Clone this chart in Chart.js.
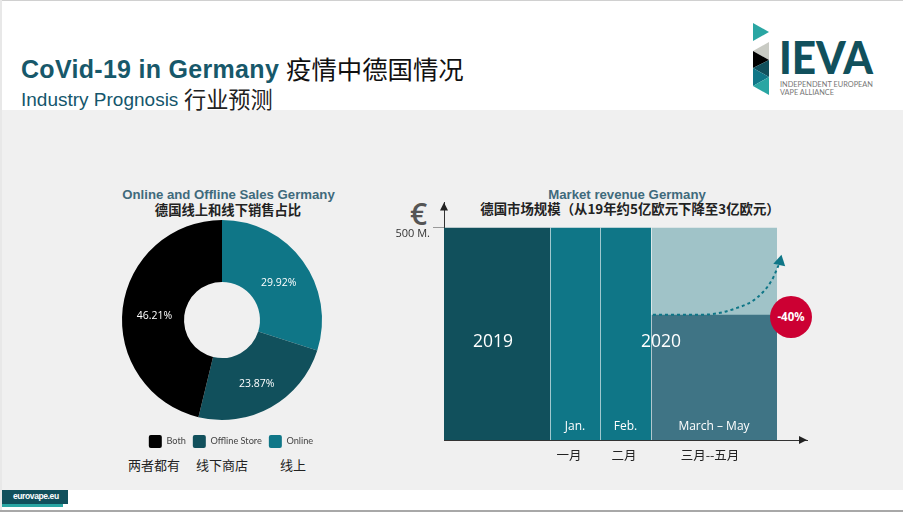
<!DOCTYPE html>
<html>
<head>
<meta charset="utf-8">
<title>CoVid-19 in Germany</title>
<script src="https://cdn.jsdelivr.net/npm/chart.js@4/dist/chart.umd.min.js"></script>
<style>
  html, body { margin: 0; padding: 0; background: #fff; overflow: hidden; }
  #slide { position: relative; width: 903px; height: 512px; overflow: hidden; font-family: "Liberation Sans", "Noto Sans CJK SC", sans-serif; }
  #slide > * { position: absolute; }
  .txt { white-space: nowrap; line-height: 1; }
  .cjk { font-family: "Noto Sans CJK SC", sans-serif; }
  .ctr { transform: translateX(-50%); }
  canvas { display: block; }
</style>
</head>
<body>
<div id="slide">
  <div style="left:0;top:0;width:903px;height:1px;background:#d0d0d0"></div>
  <div style="left:0;top:110px;width:903px;height:380px;background:#f0f0f0"></div>
  <div style="left:0;top:0;width:2px;height:512px;background:#e8e8e8"></div>
  <div style="left:0;top:510px;width:903px;height:2px;background:#a8a8a8"></div>

  <div class="txt" style="left:21px;top:57px;font-size:25px;font-weight:bold;color:#17586a;letter-spacing:.3px">CoVid-19 in Germany</div>
  <div class="txt cjk" style="left:286px;top:56px;font-size:25.4px;color:#111;">疫情中德国情况</div>
  <div class="txt" style="left:21px;top:90px;font-size:19px;color:#14566c">Industry Prognosis</div>
  <div class="txt cjk" style="left:184px;top:87px;font-size:22.2px;color:#222">行业预测</div>

  <svg style="left:740px;top:10px" width="150" height="100" viewBox="740 10 150 100">
    <polygon points="753,23 769,32 753,41" fill="#2aa6a3"/>
    <polygon points="753,51 769,42 769,60" fill="#c9cbc4"/>
    <polygon points="753,51 769,60 753,68" fill="#000"/>
    <polygon points="753,68 769,60 769,77" fill="#11505c"/>
    <polygon points="753,68 769,77 753,86" fill="#0f7687"/>
    <polygon points="753,86 769,77 769,95" fill="#2aa6a3"/>
    <text x="779" y="74" font-family="Lato" font-weight="900" font-size="45" fill="#11505c" textLength="94" lengthAdjust="spacingAndGlyphs">IEVA</text>
    <text x="780" y="87" font-family="Lato" font-size="8" fill="#777" textLength="93" lengthAdjust="spacingAndGlyphs">INDEPENDENT EUROPEAN</text>
    <text x="780" y="95" font-family="Lato" font-size="8" fill="#777" textLength="54" lengthAdjust="spacingAndGlyphs">VAPE ALLIANCE</text>
  </svg>

  <div class="txt ctr" style="left:228.5px;top:188px;font-size:13.2px;font-weight:bold;color:#3f6a7c">Online and Offline Sales Germany</div>
  <div class="txt ctr cjk" style="left:228px;top:203px;font-size:13.3px;font-weight:bold;color:#222">德国线上和线下销售占比</div>
  <canvas id="pieChart" width="250" height="230" style="left:97px;top:220px"></canvas>
  <div class="txt cjk" style="left:128px;top:458px;font-size:13px;color:#222">两者都有</div>
  <div class="txt cjk" style="left:196px;top:458px;font-size:13px;color:#222">线下商店</div>
  <div class="txt cjk" style="left:280px;top:458px;font-size:13px;color:#222">线上</div>

  <div class="txt ctr" style="left:627px;top:188px;font-size:13.2px;font-weight:bold;color:#3f6a7c">Market revenue Germany</div>
  <div class="txt ctr cjk" style="left:630px;top:202px;font-size:13.4px;font-weight:bold;color:#222">德国市场规模（从19年约5亿欧元下降至3亿欧元）</div>
  <div class="txt" style="left:410px;top:199px;font-family:'Open Sans';font-size:30px;font-weight:600;color:#555">€</div>
  <canvas id="revChart" width="434" height="277" style="left:380px;top:193px"></canvas>
  <div class="txt" style="left:770px;top:296px;width:42px;height:42px;border-radius:50%;background:#cc0033;color:#fff;font-family:'Open Sans';font-size:11.5px;font-weight:bold;text-align:center;line-height:42px">-40%</div>

  <div style="left:2px;top:490px;width:66px;height:14px;background:#11505c"></div>
  <div style="left:2px;top:504px;width:61px;height:3px;background:#2aa6a3"></div>
  <div class="txt" style="left:13px;top:492px;font-size:8.5px;font-weight:bold;letter-spacing:-.4px;color:#fff">eurovape.eu</div>
</div>

<script>
// sales split, clockwise from 12 o'clock
const pieLabels = ['Online', 'Offline Store', 'Both'];
const pieValues = [29.92, 23.87, 46.21];
const pieColors = ['#0f7687', '#11505c', '#000000'];

// revenue blocks, width of a block is its span on the x axis
const periodNames = ['2019', 'Jan.', 'Feb.', 'March – May'];
const periodSpans = [2.12, 1, 1.02, 2.52];
const periodColors = ['#11505c', '#0f7687', '#0f7687', '#a0c3c8'];
const baseRevenue = [500, 500, 500, 500];
const marchMayRevenue = 295;
const marchMayColor = '#3f7485';

const yTicks = [500];
const yTickLabels = ['500 M.'];
const xTicks = [2.5, 3.6, 5.32];
const xTickLabels = ['一月', '二月', '三月--五月'];

// dashed recovery curve
const curveX = [4.18, 5.18, 5.86, 6.26, 6.56, 6.72];
const curveY = [295, 295, 311, 335, 377, 420];

new Chart(document.getElementById('pieChart'), {
  type: 'doughnut',
  data: {
    labels: pieLabels,
    datasets: [{ data: pieValues, backgroundColor: pieColors, borderWidth: 0 }]
  },
  options: {
    responsive: false,
    animation: false,
    cutout: '38%',
    plugins: {
      tooltip: { enabled: false },
      legend: {
        position: 'bottom',
        reverse: true,
        labels: {
          boxWidth: 13, boxHeight: 13, useBorderRadius: true, borderRadius: 2, padding: 7,
          font: { family: 'Lato', size: 9.2 }, color: '#444'
        }
      }
    }
  },
  plugins: [{
    id: 'sliceLabels',
    afterLayout(chart) {
      // legend sits a bit lower and to the right of the ring
      chart.legend.top += 8;
      chart.legend.bottom += 8;
      chart.legend.left += 9;
      chart.legend.right += 9;
    },
    afterDatasetsDraw(chart) {
      const ctx = chart.ctx;
      ctx.save();
      ctx.fillStyle = '#fff';
      ctx.font = '10.5px "Open Sans"';
      ctx.textAlign = 'center';
      ctx.textBaseline = 'middle';
      chart.getDatasetMeta(0).data.forEach((arc, i) => {
        const p = arc.tooltipPosition();
        ctx.fillText(pieValues[i].toFixed(2) + '%', p.x + 1, p.y + 4);
      });
      ctx.restore();
    }
  }]
});

// turn the spans into start and end values along x
const starts = periodSpans.map((s, i) => periodSpans.slice(0, i).reduce((a, b) => a + b, 0));
const block = (i, value) => [{ x: starts[i], y: value }, { x: starts[i] + periodSpans[i], y: value }];

const blockSets = periodNames.map((name, i) => ({
  label: name,
  data: block(i, baseRevenue[i]),
  backgroundColor: periodColors[i],
  borderWidth: 0, pointRadius: 0, fill: 'origin', order: 3
}));

const lastIdx = periodNames.length - 1;
blockSets.push({
  label: 'March – May actual',
  data: block(lastIdx, marchMayRevenue),
  backgroundColor: marchMayColor,
  borderWidth: 0, pointRadius: 0, fill: 'origin', order: 2
});

blockSets.push({
  label: 'recovery',
  data: curveX.map((x, i) => ({ x: x, y: curveY[i] })),
  borderColor: '#0f7687',
  backgroundColor: '#0f7687',
  borderWidth: 2,
  borderDash: [3, 3],
  cubicInterpolationMode: 'monotone',
  fill: false,
  pointStyle: 'triangle',
  pointRadius: curveX.map((x, i) => i === curveX.length - 1 ? 7 : 0),
  pointRotation: 12,
  pointBorderWidth: 0,
  order: 1
});

new Chart(document.getElementById('revChart'), {
  type: 'line',
  data: { datasets: blockSets },
  options: {
    responsive: false,
    animation: false,
    layout: { padding: { top: 3, right: 3 } },
    plugins: { legend: { display: false }, tooltip: { enabled: false } },
    scales: {
      x: {
        type: 'linear', min: 0, max: 7.26,
        afterBuildTicks(scale) { scale.ticks = xTicks.map(v => ({ value: v })); },
        afterFit(scale) { scale.height = 30; },
        grid: { display: false },
        border: { display: true, color: '#333' },
        ticks: {
          autoSkip: false, maxRotation: 0, padding: 0,
          font: { family: 'Noto Sans CJK SC', size: 12.5 }, color: '#222',
          callback: (v, i) => xTickLabels[i]
        }
      },
      y: {
        min: 0, max: 559,
        afterBuildTicks(scale) { scale.ticks = yTicks.map(v => ({ value: v })); },
        afterFit(scale) { scale.width = 64; },
        grid: { drawOnChartArea: false, tickLength: 11, color: '#999' },
        border: { display: true, color: '#333' },
        ticks: {
          padding: 3, labelOffset: 6,
          font: { family: 'Open Sans', size: 11 }, color: '#333',
          callback: (v, i) => yTickLabels[i]
        }
      }
    }
  },
  plugins: [{
    id: 'blockDecor',
    afterDatasetsDraw(chart) {
      const ctx = chart.ctx, x = chart.scales.x, y = chart.scales.y;
      ctx.save();
      // light separators between the blocks
      ctx.strokeStyle = 'rgba(255,255,255,0.6)';
      ctx.lineWidth = 1;
      starts.slice(1).forEach(s => {
        const px = Math.round(x.getPixelForValue(s)) + 0.5;
        ctx.beginPath();
        ctx.moveTo(px, y.getPixelForValue(baseRevenue[0]));
        ctx.lineTo(px, y.getPixelForValue(0));
        ctx.stroke();
      });
      // names inside the blocks
      ctx.fillStyle = '#fff';
      ctx.textAlign = 'center';
      ctx.textBaseline = 'middle';
      ctx.font = '12px "Open Sans"';
      periodNames.slice(1).forEach((name, i) => {
        ctx.fillText(name, x.getPixelForValue(starts[i + 1] + periodSpans[i + 1] / 2), y.getPixelForValue(31));
      });
      ctx.font = '17.5px "Open Sans"';
      ctx.fillText('2019', x.getPixelForValue(starts[0] + periodSpans[0] / 2) - 4, y.getPixelForValue(231));
      ctx.fillText('2020', x.getPixelForValue(starts[2] + periodSpans[2] + 0.2), y.getPixelForValue(231));
      // arrow heads on the axes
      ctx.fillStyle = '#222';
      const ax = chart.chartArea;
      ctx.beginPath();
      ctx.moveTo(ax.left, ax.top); ctx.lineTo(ax.left - 4, ax.top + 8); ctx.lineTo(ax.left + 4, ax.top + 8);
      ctx.fill();
      ctx.beginPath();
      ctx.moveTo(ax.right, ax.bottom); ctx.lineTo(ax.right - 8, ax.bottom - 4); ctx.lineTo(ax.right - 8, ax.bottom + 4);
      ctx.fill();
      ctx.restore();
    }
  }]
});
</script>
</body>
</html>
